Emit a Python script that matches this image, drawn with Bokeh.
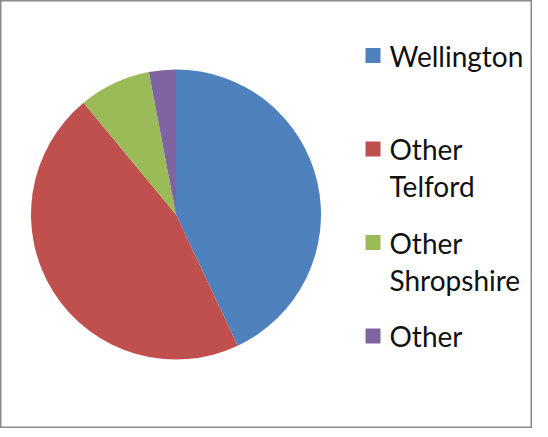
import math
from bokeh.plotting import figure
from bokeh.models import ColumnDataSource, Range1d
from bokeh.core.properties import value
from bokeh.embed import file_html
from bokeh.resources import INLINE

# ---- data ----
categories = ["Wellington", "Other Telford", "Other Shropshire", "Other"]
legend_labels = ["Wellington", "Other\nTelford", "Other\nShropshire", "Other"]
shares = [43, 46, 8, 3]
colors = ["#4F81BD", "#C0504D", "#9BBB59", "#8064A2"]

# ---- layout ----
W, H = 532, 428
cx, cy, r = 175.5, 214.0, 145.0
leg_x_sq = 372.5
leg_x_txt = 389.0
leg_top = 373.0
leg_step = 93.5
sq = 15
txt_shift = 17.0

total = float(sum(shares))
starts, ends = [], []
acc = 0.0
for s in shares:
    starts.append(math.pi / 2 - acc / total * 2 * math.pi)
    acc += s
    ends.append(math.pi / 2 - acc / total * 2 * math.pi)

src = ColumnDataSource(dict(cat=categories, share=shares, color=colors,
                            start=starts, end=ends))

p = figure(width=W, height=H, output_backend="svg", toolbar_location=None,
           x_range=Range1d(0, W), y_range=Range1d(0, H), min_border=0)
p.axis.visible = False
p.grid.visible = False
p.outline_line_color = "#8a8a8a"
p.outline_line_width = 2
p.background_fill_color = "white"
p.border_fill_color = "white"

p.wedge(x=cx, y=cy, radius=r, start_angle="start", end_angle="end",
        direction="clock", fill_color="color", line_color=None, source=src)

ly = [leg_top - i * leg_step for i in range(len(categories))]
lsrc = ColumnDataSource(dict(x=[leg_x_sq] * len(categories), y=ly,
                             tx=[leg_x_txt] * len(categories),
                             ty=[v + txt_shift for v in ly],
                             label=legend_labels, color=colors))
p.rect(x="x", y="y", width=sq, height=sq, fill_color="color", line_color=None,
       source=lsrc)
p.text(x="tx", y="ty", text="label", source=lsrc, text_font=value("Lato"),
       text_font_size="28px", text_color="#111111", text_baseline="top",
       text_line_height=1.1)

open("out.html", "w").write(file_html(p, INLINE))
